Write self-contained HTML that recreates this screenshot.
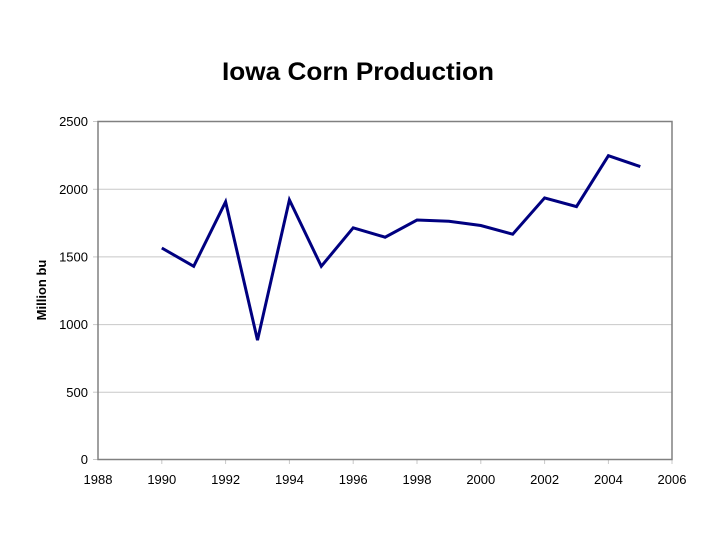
<!DOCTYPE html>
<html><head><style>body{margin:0;background:#fff}svg{display:block}</style></head><body>
<svg width="720" height="540" xmlns="http://www.w3.org/2000/svg" font-family="Liberation Sans, Arial, sans-serif">
<rect width="720" height="540" fill="#fff"/>
<text x="358" y="80" font-size="25" font-weight="bold" text-anchor="middle" fill="#000" textLength="272" lengthAdjust="spacingAndGlyphs">Iowa Corn Production</text>
<g stroke="#c8c8c8" stroke-width="1">
<line x1="98" y1="121.5" x2="672" y2="121.5"/>
<line x1="98" y1="189.3" x2="672" y2="189.3"/>
<line x1="98" y1="256.9" x2="672" y2="256.9"/>
<line x1="98" y1="324.6" x2="672" y2="324.6"/>
<line x1="98" y1="392.2" x2="672" y2="392.2"/>
</g>
<g stroke="#c8c8c8">
<line x1="161.8" y1="459.5" x2="161.8" y2="464"/><line x1="225.6" y1="459.5" x2="225.6" y2="464"/><line x1="289.4" y1="459.5" x2="289.4" y2="464"/><line x1="353.2" y1="459.5" x2="353.2" y2="464"/><line x1="417" y1="459.5" x2="417" y2="464"/><line x1="480.8" y1="459.5" x2="480.8" y2="464"/><line x1="544.6" y1="459.5" x2="544.6" y2="464"/><line x1="608.4" y1="459.5" x2="608.4" y2="464"/><line x1="672" y1="459.5" x2="672" y2="464"/>
<line x1="93" y1="121.5" x2="98" y2="121.5"/><line x1="93" y1="189.3" x2="98" y2="189.3"/><line x1="93" y1="256.9" x2="98" y2="256.9"/><line x1="93" y1="324.6" x2="98" y2="324.6"/><line x1="93" y1="392.2" x2="98" y2="392.2"/><line x1="93" y1="459.5" x2="98" y2="459.5"/>
</g>
<rect x="98" y="121.5" width="574" height="338" fill="none" stroke="#808080" stroke-width="1.5"/>
<g font-size="13" fill="#000" text-anchor="end">
<text x="88" y="126">2500</text><text x="88" y="194">2000</text><text x="88" y="261.5">1500</text><text x="88" y="329">1000</text><text x="88" y="397">500</text><text x="88" y="464">0</text>
</g>
<g font-size="13" fill="#000" text-anchor="middle">
<text x="98" y="484">1988</text><text x="161.8" y="484">1990</text><text x="225.6" y="484">1992</text><text x="289.4" y="484">1994</text><text x="353.2" y="484">1996</text><text x="417" y="484">1998</text><text x="480.8" y="484">2000</text><text x="544.6" y="484">2002</text><text x="608.4" y="484">2004</text><text x="672" y="484">2006</text>
</g>
<text transform="translate(46,290) rotate(-90)" font-size="13" font-weight="bold" text-anchor="middle">Million bu</text>
<polyline fill="none" stroke="#000080" stroke-width="3" stroke-linejoin="miter" points="161.8,248 193.7,266.3 225.6,201.8 257.5,340.2 289.4,199.9 321.3,266.3 353.2,227.8 385.1,237.2 417,220 448.9,221.3 480.8,225.5 512.7,234.2 544.6,197.9 576.5,206.6 608.4,155.7 640.3,166.6"/>
</svg>
</body></html>
